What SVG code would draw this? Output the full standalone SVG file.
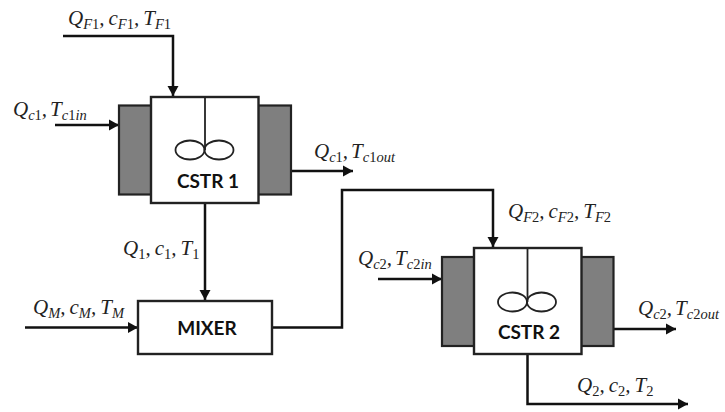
<svg xmlns="http://www.w3.org/2000/svg" width="725" height="412" viewBox="0 0 725 412">
<style>
.box{fill:#fff;stroke:#222;stroke-width:2.4}
.jacket{fill:#7f7f7f;stroke:#222;stroke-width:2.2}
.thin{fill:none;stroke:#222;stroke-width:1.8}
.conn{fill:none;stroke:#111;stroke-width:2.500;marker-end:url(#arrow)}
.name{font-family:Lato,"Liberation Sans",sans-serif;font-weight:700;font-size:19px;fill:#111;text-anchor:middle}
.m{font-family:"Liberation Serif",serif;font-style:italic;font-size:21px;fill:#222}
.s{font-size:14.500px}
.d{font-style:normal}
</style>
<defs>
<marker id="arrow" markerUnits="userSpaceOnUse" markerWidth="12" markerHeight="14" refX="10" refY="6" orient="auto">
<path d="M0 0.500L10 6L0 11.500Z" fill="#111"/>
</marker>
</defs>
<g id="connectors">
<path class="conn" d="M63 36H173V96"/>
<path class="conn" d="M55 125H119"/>
<path class="conn" d="M291 171H353"/>
<path class="conn" d="M205 203V300"/>
<path class="conn" d="M25 327.500H138"/>
<path class="conn" d="M272 327.500H342V190H493V247"/>
<path class="conn" d="M378 279H442"/>
<path class="conn" d="M613 329H676"/>
<path class="conn" d="M527.500 354V404H688"/>
</g>
<g id="cstr1">
<rect class="jacket" x="119" y="105.500" width="172" height="89"/>
<rect class="box" x="151" y="97" width="107.500" height="106"/>
<path class="thin" d="M205 97V150"/>
<ellipse class="thin" cx="190" cy="150" rx="14.500" ry="9.500"/>
<ellipse class="thin" cx="219" cy="150" rx="14.500" ry="9.500"/>
<text class="name" x="208" y="188">CSTR 1</text>
</g>
<g id="mixer">
<rect class="box" x="138" y="301" width="134" height="53"/>
<text class="name" x="207" y="335">MIXER</text>
</g>
<g id="cstr2">
<rect class="jacket" x="442" y="257" width="171.500" height="89"/>
<rect class="box" x="474" y="248" width="107.500" height="106"/>
<path class="thin" d="M527.500 248V302"/>
<ellipse class="thin" cx="512.500" cy="302" rx="14.500" ry="9.500"/>
<ellipse class="thin" cx="541.500" cy="302" rx="14.500" ry="9.500"/>
<text class="name" x="529" y="339">CSTR 2</text>
</g>
<g id="labels">
<text class="m" x="68" y="25">Q<tspan class="s" dy="4">F<tspan class="d">1</tspan></tspan><tspan dy="-4">,</tspan><tspan dx="4">c</tspan><tspan class="s" dy="4">F<tspan class="d">1</tspan></tspan><tspan dy="-4">,</tspan><tspan dx="4">T</tspan><tspan class="s" dy="4">F<tspan class="d">1</tspan></tspan></text>
<text class="m" x="13" y="116">Q<tspan class="s" dy="4">c<tspan class="d">1</tspan></tspan><tspan dy="-4">,</tspan><tspan dx="3">T</tspan><tspan class="s" dy="4">c<tspan class="d">1</tspan>in</tspan></text>
<text class="m" x="314" y="158">Q<tspan class="s" dy="4">c<tspan class="d">1</tspan></tspan><tspan dy="-4">,</tspan><tspan dx="3">T</tspan><tspan class="s" dy="4">c<tspan class="d">1</tspan>out</tspan></text>
<text class="m" x="123" y="255">Q<tspan class="s d" dy="4">1</tspan><tspan dy="-4">,</tspan><tspan dx="4">c</tspan><tspan class="s d" dy="4">1</tspan><tspan dy="-4">,</tspan><tspan dx="4">T</tspan><tspan class="s d" dy="4">1</tspan></text>
<text class="m" x="33" y="314">Q<tspan class="s" dy="4">M</tspan><tspan dy="-4">,</tspan><tspan dx="4">c</tspan><tspan class="s" dy="4">M</tspan><tspan dy="-4">,</tspan><tspan dx="4">T</tspan><tspan class="s" dy="4">M</tspan></text>
<text class="m" x="508" y="218">Q<tspan class="s" dy="4">F<tspan class="d">2</tspan></tspan><tspan dy="-4">,</tspan><tspan dx="4">c</tspan><tspan class="s" dy="4">F<tspan class="d">2</tspan></tspan><tspan dy="-4">,</tspan><tspan dx="4">T</tspan><tspan class="s" dy="4">F<tspan class="d">2</tspan></tspan></text>
<text class="m" x="358" y="265">Q<tspan class="s" dy="4">c<tspan class="d">2</tspan></tspan><tspan dy="-4">,</tspan><tspan dx="3">T</tspan><tspan class="s" dy="4">c<tspan class="d">2</tspan>in</tspan></text>
<text class="m" x="638" y="315">Q<tspan class="s" dy="4">c<tspan class="d">2</tspan></tspan><tspan dy="-4">,</tspan><tspan dx="3">T</tspan><tspan class="s" dy="4">c<tspan class="d">2</tspan>out</tspan></text>
<text class="m" x="577" y="392">Q<tspan class="s d" dy="4">2</tspan><tspan dy="-4">,</tspan><tspan dx="4">c</tspan><tspan class="s d" dy="4">2</tspan><tspan dy="-4">,</tspan><tspan dx="4">T</tspan><tspan class="s d" dy="4">2</tspan></text>
</g>
</svg>
